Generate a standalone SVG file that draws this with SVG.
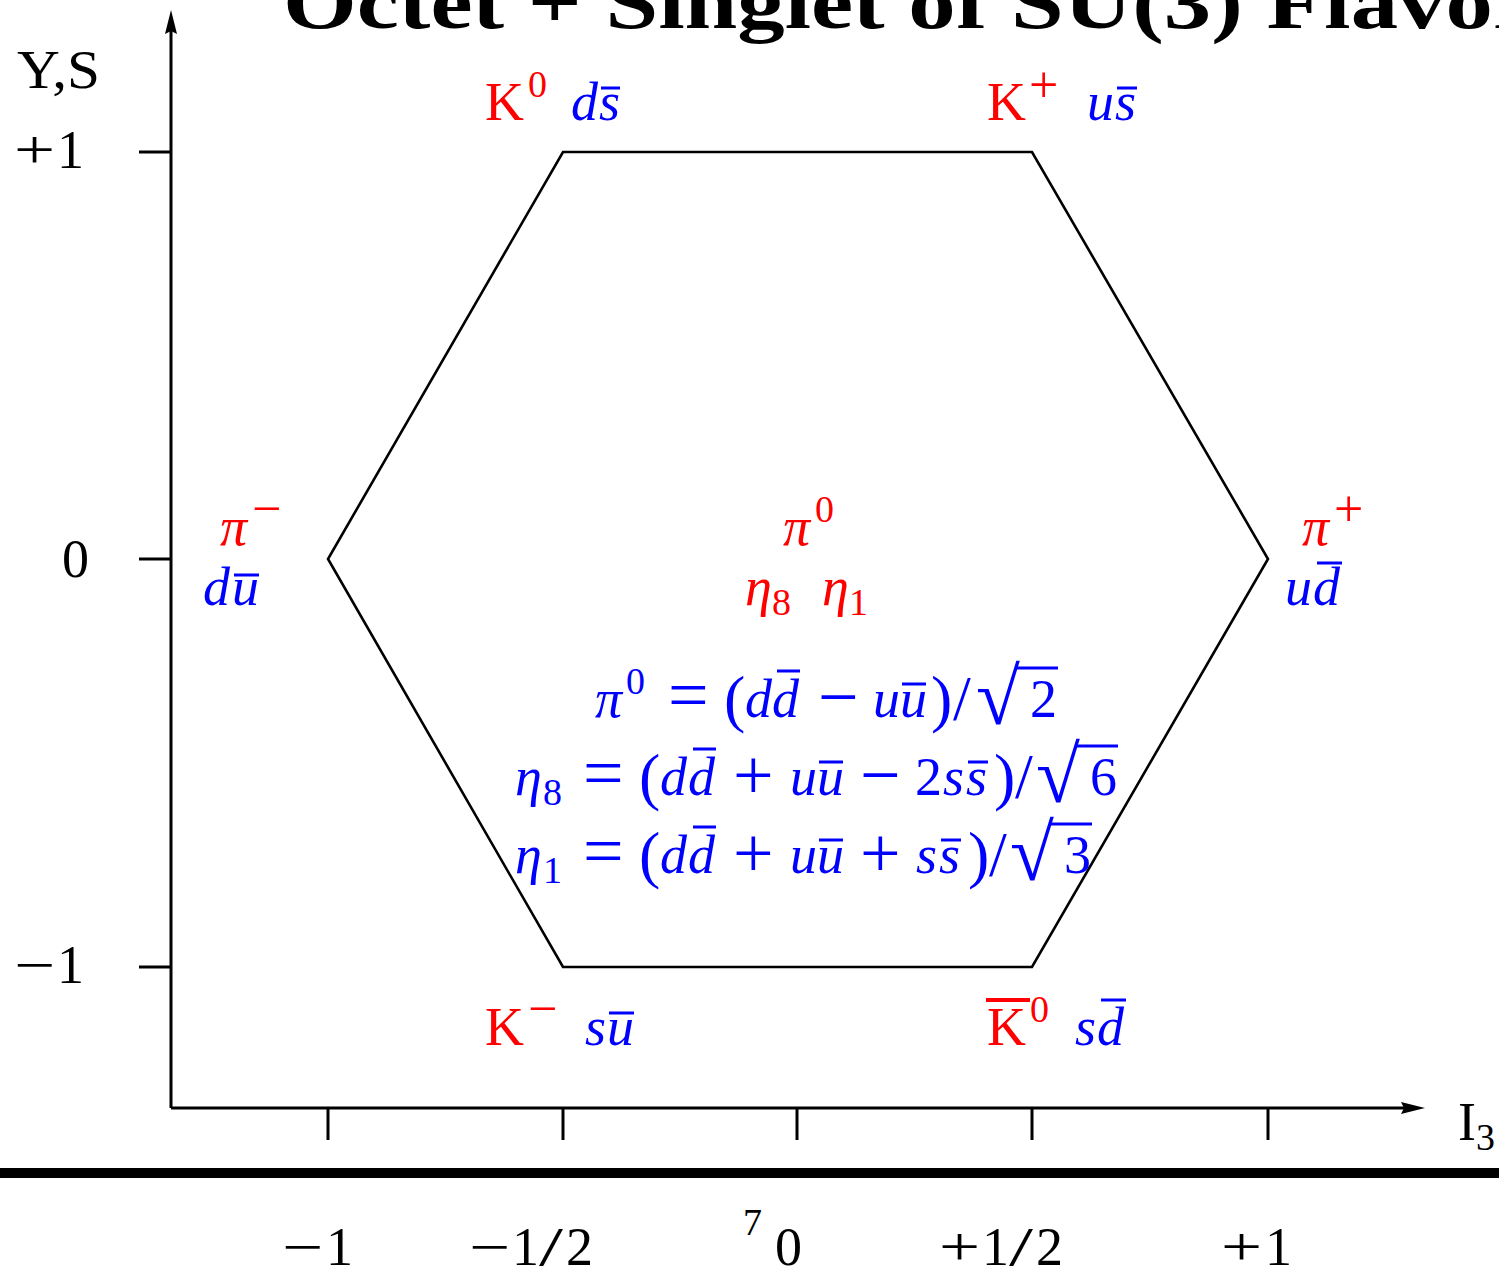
<svg xmlns="http://www.w3.org/2000/svg" width="1499" height="1275" viewBox="0 0 1499 1275">
<style>
text{font-family:"Liberation Serif","DejaVu Serif",serif;font-size:54px}
.t{font-weight:bold;font-size:77px}
.i{font-style:italic}
.s{font-size:38px}
.so{font-size:52px}
.o{font-size:72px}
.p{font-size:64px}
.rt{font-size:80px}
.r{fill:#ff0000}
.b{fill:#0000ff}
.ax{stroke:#000;stroke-width:3;fill:none}
.hx{stroke:#000;stroke-width:2.6;fill:none;stroke-linejoin:miter}
.bb{stroke:#0000ff;stroke-width:3}
.br{stroke:#ff0000;stroke-width:4}
</style>
<rect width="1499" height="1275" fill="#fff"/>
<g id="title"><text class="t" x="283" y="28" textLength="1252" lengthAdjust="spacingAndGlyphs">Octet + Singlet of SU(3) Flavor</text></g>
<g id="axes">
<line class="ax" x1="171" y1="1108" x2="171" y2="30"/>
<polygon points="171,10 165,34 171,31 177,34" fill="#000"/>
<line class="ax" x1="171" y1="1108" x2="1405" y2="1108"/>
<polygon points="1425,1108 1401,1102 1404,1108 1401,1114" fill="#000"/>
<line class="ax" x1="139" y1="152" x2="171" y2="152"/>
<line class="ax" x1="139" y1="559" x2="171" y2="559"/>
<line class="ax" x1="139" y1="967" x2="171" y2="967"/>
<line class="ax" x1="328" y1="1108" x2="328" y2="1140"/>
<line class="ax" x1="563" y1="1108" x2="563" y2="1140"/>
<line class="ax" x1="797" y1="1108" x2="797" y2="1140"/>
<line class="ax" x1="1032" y1="1108" x2="1032" y2="1140"/>
<line class="ax" x1="1268" y1="1108" x2="1268" y2="1140"/>
<text x="17" y="88" textLength="83" lengthAdjust="spacingAndGlyphs">Y,S</text>
<text transform="translate(14,168) scale(1.35,1)">+</text><text x="57" y="168">1</text>
<text x="62" y="577">0</text>
<text transform="translate(14,983) scale(1.35,1)">−</text><text x="57" y="983">1</text>
<text x="1458" y="1140">I<tspan class="s" y="1150">3</tspan></text>
</g>
<rect id="rule" x="0" y="1168" width="1499" height="10" fill="#000"/>
<g id="bottom-labels">
<text transform="translate(282,1265) scale(1.35,1)">−</text><text x="326" y="1265">1</text>
<text transform="translate(469,1265) scale(1.35,1)">−</text><text x="512" y="1265">1</text><text transform="translate(539,1265) scale(1.6,1)">/</text><text x="566" y="1265">2</text>
<text class="s" x="743" y="1235">7</text>
<text x="775" y="1265">0</text>
<text transform="translate(939,1265) scale(1.35,1)">+</text><text x="982" y="1265">1</text><text transform="translate(1009,1265) scale(1.6,1)">/</text><text x="1036" y="1265">2</text>
<text transform="translate(1221,1265) scale(1.35,1)">+</text><text x="1265" y="1265">1</text>
</g>
<g id="connectors">
<polygon class="hx" points="563,152 1032,152 1268,559 1032,967 563,967 328,559"/>
</g>
<g id="K0">
<text class="r" x="485" y="120">K</text><text class="r s" x="528" y="97">0</text>
<text class="b i" x="571" y="120">d</text><text class="b i" x="599" y="120">s</text>
<line class="bb" x1="601" y1="88" x2="620" y2="88"/>
</g>
<g id="Kplus">
<text class="r" x="987" y="120">K</text><text class="r so" x="1029" y="102">+</text>
<text class="b i" x="1087" y="120">u</text><text class="b i" x="1115" y="120">s</text>
<line class="bb" x1="1117" y1="88" x2="1137" y2="88"/>
</g>
<g id="piminus">
<text class="r i" x="220" y="545">π</text><text class="r so" x="252" y="526">−</text>
<text class="b i" x="203" y="605">d</text><text class="b i" x="232" y="605">u</text>
<line class="bb" x1="234" y1="575" x2="259" y2="575"/>
</g>
<g id="center">
<text class="r i" x="783" y="545">π</text><text class="r s" x="815" y="522">0</text>
<text class="r i" x="745" y="605">η</text><text class="r s" x="772" y="615">8</text>
<text class="r i" x="822" y="605">η</text><text class="r s" x="849" y="615">1</text>
</g>
<g id="piplus">
<text class="r i" x="1302" y="545">π</text><text class="r so" x="1334" y="526">+</text>
<text class="b i" x="1285" y="605">u</text><text class="b i" x="1313" y="605">d</text>
<line class="bb" x1="1317" y1="563" x2="1342" y2="563"/>
</g>
<g id="Kminus">
<text class="r" x="485" y="1045">K</text><text class="r so" x="528" y="1026">−</text>
<text class="b i" x="585" y="1045">s</text><text class="b i" x="607" y="1045">u</text>
<line class="bb" x1="609" y1="1013" x2="634" y2="1013"/>
</g>
<g id="K0bar">
<text class="r" x="987" y="1045">K</text><line class="br" x1="986" y1="1000" x2="1030" y2="1000"/><text class="r s" x="1030" y="1022">0</text>
<text class="b i" x="1075" y="1045">s</text><text class="b i" x="1097" y="1045">d</text>
<line class="bb" x1="1101" y1="1000" x2="1126" y2="1000"/>
</g>
<g id="equations">
<text class="b i" x="595" y="717">π</text><text class="b s" x="626" y="694">0</text>
<text class="b o" x="668" y="719">=</text><text class="b p" x="724" y="720">(</text>
<text class="b i" x="745" y="717">d</text><text class="b i" x="772" y="717">d</text>
<line class="bb" x1="777" y1="671" x2="800" y2="671"/>
<text class="b o" x="818" y="721">−</text>
<text class="b i" x="873" y="717">u</text><text class="b i" x="900" y="717">u</text>
<line class="bb" x1="902" y1="684" x2="926" y2="684"/>
<text class="b p" x="931" y="720">)</text><text class="b p" x="953" y="720">/</text>
<text class="b rt" x="976" y="724">√</text>
<line class="bb" x1="1016" y1="668" x2="1058" y2="668"/>
<text class="b" x="1030" y="717">2</text>

<text class="b i" x="515" y="795">η</text><text class="b s" x="543" y="805">8</text>
<text class="b o" x="583" y="797">=</text><text class="b p" x="639" y="798">(</text>
<text class="b i" x="660" y="795">d</text><text class="b i" x="688" y="795">d</text>
<line class="bb" x1="693" y1="749" x2="716" y2="749"/>
<text class="b o" x="733" y="799">+</text>
<text class="b i" x="790" y="795">u</text><text class="b i" x="817" y="795">u</text>
<line class="bb" x1="819" y1="762" x2="843" y2="762"/>
<text class="b o" x="860" y="799">−</text>
<text class="b" x="915" y="795">2</text>
<text class="b i" x="943" y="795">s</text><text class="b i" x="966" y="795">s</text>
<line class="bb" x1="968" y1="762" x2="988" y2="762"/>
<text class="b p" x="994" y="798">)</text><text class="b p" x="1015" y="798">/</text>
<text class="b rt" x="1036" y="802">√</text>
<line class="bb" x1="1076" y1="746" x2="1118" y2="746"/>
<text class="b" x="1090" y="795">6</text>

<text class="b i" x="515" y="873">η</text><text class="b s" x="543" y="883">1</text>
<text class="b o" x="583" y="875">=</text><text class="b p" x="639" y="876">(</text>
<text class="b i" x="660" y="873">d</text><text class="b i" x="688" y="873">d</text>
<line class="bb" x1="693" y1="827" x2="716" y2="827"/>
<text class="b o" x="733" y="877">+</text>
<text class="b i" x="790" y="873">u</text><text class="b i" x="817" y="873">u</text>
<line class="bb" x1="819" y1="840" x2="843" y2="840"/>
<text class="b o" x="860" y="877">+</text>
<text class="b i" x="916" y="873">s</text><text class="b i" x="939" y="873">s</text>
<line class="bb" x1="941" y1="840" x2="961" y2="840"/>
<text class="b p" x="968" y="876">)</text><text class="b p" x="989" y="876">/</text>
<text class="b rt" x="1010" y="880">√</text>
<line class="bb" x1="1050" y1="824" x2="1092" y2="824"/>
<text class="b" x="1064" y="873">3</text>
</g>
</svg>
